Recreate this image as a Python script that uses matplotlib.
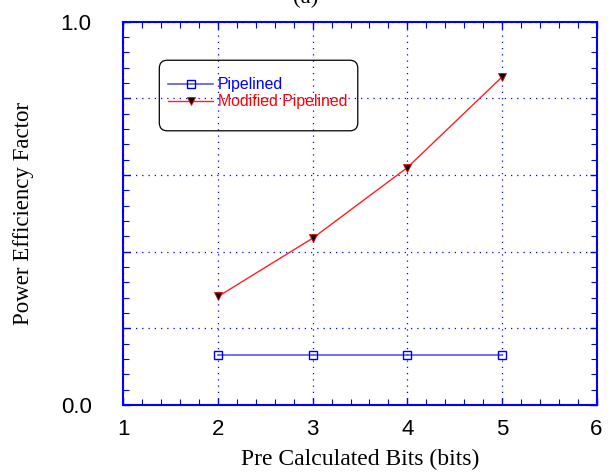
import matplotlib
matplotlib.use("Agg")
import matplotlib.pyplot as plt
from matplotlib.patches import FancyBboxPatch
from matplotlib.ticker import MultipleLocator, FixedLocator, FixedFormatter

# data
bits = [2, 3, 4, 5]
pipelined = [0.131, 0.131, 0.131, 0.131]
modified = [0.283, 0.435, 0.619, 0.855]

serif = ["Liberation Serif", "DejaVu Serif"]
sans = ["Liberation Sans", "DejaVu Sans"]

fig = plt.figure(figsize=(6.11, 4.76), dpi=100)
ax = fig.add_axes([123.5 / 611, 1 - 405 / 476, 473 / 611, 383.5 / 476])

ax.plot(bits, pipelined, color="#4a4ae6", lw=1.1, marker="s", ms=5.5,
        mfc="none", mec="#0000ee", mew=1.0, label="Pipelined")
ax.plot(bits, modified, color="#ff2020", lw=1.0, marker="v", ms=6,
        mfc="black", mec="#ff0000", mew=0.6, label="Modified Pipelined")

ax.set_xlim(1, 6)
ax.set_ylim(0, 1)
ax.xaxis.set_major_locator(MultipleLocator(1))
ax.xaxis.set_minor_locator(MultipleLocator(0.2))
ax.yaxis.set_major_locator(FixedLocator([0, 0.2, 0.4, 0.6, 0.8, 1.0]))
ax.yaxis.set_major_formatter(FixedFormatter(["0.0", "", "", "", "", "1.0"]))
ax.yaxis.set_minor_locator(MultipleLocator(0.04))

for s in ax.spines.values():
    s.set_color("#0000ff")
    s.set_linewidth(1.5)
ax.tick_params(which="both", direction="in", top=True, right=True,
               color="#0000ff", labelsize=16)
ax.tick_params(which="major", length=5, width=1)
ax.tick_params(which="minor", length=4, width=0.8)
ax.tick_params(axis="x", which="major", pad=10)
ax.tick_params(axis="y", which="major", pad=23)
for lab in ax.get_xticklabels() + ax.get_yticklabels():
    lab.set_family(sans)

ax.grid(True, which="major", color="#0000ff", ls=(0, (1, 4)), lw=0.9)

ax.set_xlabel("Pre Calculated Bits (bits)", family=serif, fontsize=17)
ax.xaxis.set_label_coords(0.5, -0.115)
ax.set_ylabel("Power Efficiency Factor", family=serif, fontsize=16.5)
ax.yaxis.set_label_coords(-0.189, 0.5)
# title sits partly above the top edge, as in the reference
fig.text(0.5, 0.983, "(a)", family=serif, fontsize=16.5, ha="center", va="bottom")

# rounded legend box
frame = FancyBboxPatch((0.0757, 0.715), 0.4196, 0.184, transform=ax.transAxes,
                       boxstyle="round,pad=0,rounding_size=0.017",
                       mutation_aspect=473 / 383.5, fc="none", ec="black",
                       lw=0.9, zorder=5)
ax.add_patch(frame)

leg = ax.legend(loc="center left", bbox_to_anchor=(0.094, 0.813), frameon=False,
                prop={"family": sans, "size": 11.4}, handlelength=2.85,
                handletextpad=0.3, borderpad=0, borderaxespad=0,
                labelspacing=0.12)
for txt, c in zip(leg.get_texts(), ["#0000ff", "#ff0000"]):
    txt.set_color(c)

fig.savefig("out.png", dpi=100)
